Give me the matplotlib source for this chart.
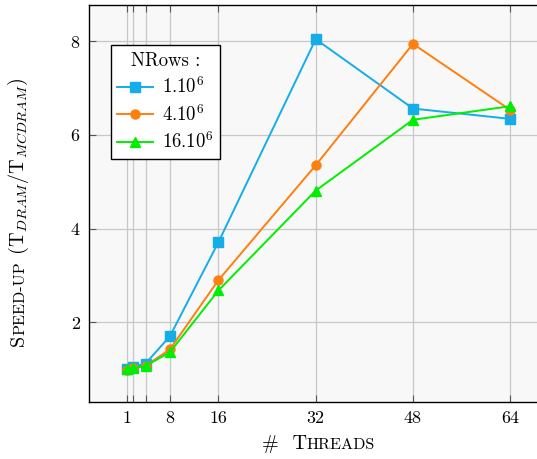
import matplotlib
matplotlib.use("Agg")
import matplotlib.pyplot as plt

plt.rcParams['font.family'] = 'serif'
plt.rcParams['font.serif'] = ['cmr10', 'DejaVu Serif']
plt.rcParams['mathtext.fontset'] = 'cm'
plt.rcParams['axes.unicode_minus'] = False
plt.rcParams['axes.formatter.use_mathtext'] = True

threads = [1, 2, 4, 8, 16, 32, 48, 64]
tick_labels = ['1', '', '', '8', '16', '32', '48', '64']
speedup_1m = [1.00, 1.05, 1.12, 1.70, 3.71, 8.04, 6.56, 6.34]
speedup_4m = [0.98, 1.02, 1.07, 1.42, 2.90, 5.35, 7.94, 6.53]
speedup_16m = [1.00, 1.02, 1.07, 1.36, 2.68, 4.81, 6.32, 6.61]
labels = [r'$1.10^6$', r'$4.10^6$', r'$16.10^6$']

fs = 13
fig = plt.figure(figsize=(5.37, 4.59), dpi=100)
ax = fig.add_axes([0.1657, 0.1242, 0.875, 0.865])
ax.set_facecolor('#f8f8f8')

ax.plot(threads, speedup_1m, color='#14ade8', lw=1.4, marker='s', ms=7, label=labels[0], zorder=3)
ax.plot(threads, speedup_4m, color='#ff7f0e', lw=1.4, marker='o', ms=6.5, label=labels[1], zorder=3)
ax.plot(threads, speedup_16m, color='#00ee00', lw=1.4, marker='^', ms=7, label=labels[2], zorder=3)

ax.set_xlim(-5.3, 72.0)
ax.set_ylim(0.3, 8.77)
ax.set_xticks(threads)
ax.set_xticklabels(tick_labels)
ax.set_yticks([2, 4, 6, 8])
ax.grid(True, color='#c8c8c8', lw=0.9)
ax.set_axisbelow(True)
ax.tick_params(direction='in', length=5, width=0.8, color='#555555', labelsize=fs,
               top=True, right=True, pad=6)
for sp in ax.spines.values():
    sp.set_linewidth(1.0)

leg = ax.legend(loc='upper left', bbox_to_anchor=(0.046, 0.899), borderaxespad=0,
                title='NRows :', title_fontsize=13.5, fontsize=13.5, fancybox=False,
                edgecolor='black', framealpha=1, handlelength=1.9, labelspacing=0.35,
                borderpad=0.35, handletextpad=0.5)
leg.get_frame().set_linewidth(1.0)

# small caps labels built from pieces
fig.canvas.draw()
renderer = fig.canvas.get_renderer()
lfs = 14.5
small = lfs * 0.8


def piece_sizes(pieces):
    out = []
    for txt, size in pieces:
        t = fig.text(0, 0, txt, fontsize=size)
        bb = t.get_window_extent(renderer)
        out.append(bb.width)
        t.remove()
    return out


def put_horizontal(pieces, cx, y):
    widths = piece_sizes(pieces)
    x = cx - sum(widths) / 2
    for (txt, size), w in zip(pieces, widths):
        fig.text(x / fig.bbox.width, y / fig.bbox.height, txt, fontsize=size,
                 ha='left', va='baseline')
        x += w


def put_vertical(pieces, x, cy):
    widths = piece_sizes(pieces)
    y = cy - sum(widths) / 2
    for (txt, size), w in zip(pieces, widths):
        fig.text(x / fig.bbox.width, y / fig.bbox.height, txt, fontsize=size,
                 ha='left', va='baseline', rotation=90, rotation_mode='anchor')
        y += w


put_horizontal([(r'$\#$', lfs), ('  T', lfs), ('HREADS', small)], 318, 459 - 449)
put_vertical([('S', lfs), ('PEED-UP', small),
              (r' $\left(\mathrm{T}_{DRAM}/\mathrm{T}_{MCDRAM}\right)$', lfs)],
             24, 459 - 212)

fig.savefig('out.png', dpi=100)
